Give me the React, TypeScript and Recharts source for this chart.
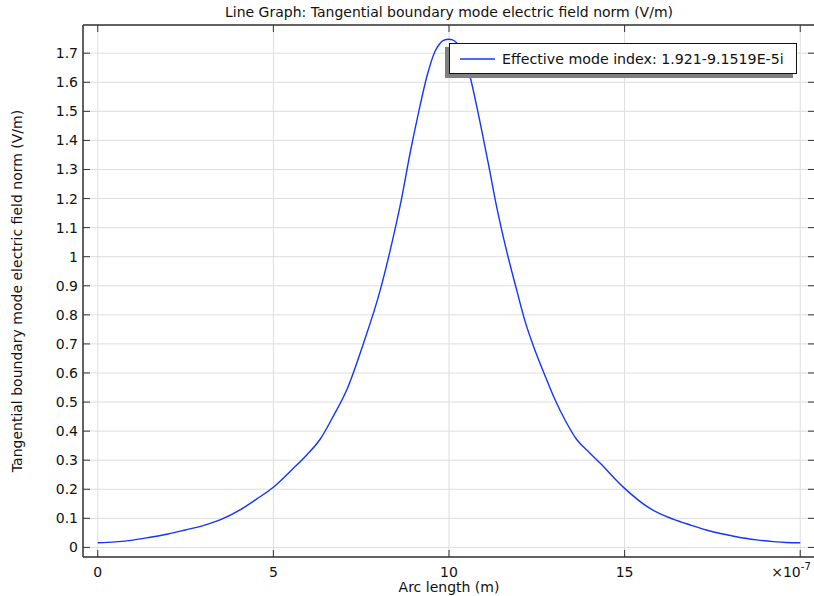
import { LineChart, Line, XAxis, YAxis, CartesianGrid, ReferenceLine, Legend, Label } from 'recharts';

// arc length in units of 1e-7 m
const arcLength = [
  0, 0.5, 1.0, 1.5, 2.0, 2.5, 3.0, 3.53, 4.05, 4.53, 5.0, 5.57, 5.95, 6.33, 6.7, 7.1, 7.56, 8.04, 8.37,
  8.65, 8.89, 9.13, 9.37, 9.6, 9.72, 9.84, 10.0, 10.1, 10.3, 10.5, 10.6, 10.83, 11.12, 11.36, 11.64,
  11.93, 12.16, 12.45, 12.78, 13.02, 13.3, 13.63, 14.0, 14.3, 15.0, 15.72, 16.38, 16.9, 17.33, 17.8,
  18.28, 18.75, 19.23, 19.6, 20.0,
];
const fieldNorm = [
  0.016, 0.019, 0.025, 0.035, 0.046, 0.06, 0.075, 0.097, 0.129, 0.167, 0.207, 0.272, 0.318, 0.372,
  0.45, 0.545, 0.7, 0.884, 1.045, 1.2, 1.355, 1.494, 1.62, 1.706, 1.73, 1.744, 1.748, 1.746, 1.722,
  1.665, 1.62, 1.494, 1.32, 1.17, 1.02, 0.884, 0.78, 0.677, 0.577, 0.508, 0.439, 0.372, 0.326, 0.29,
  0.203, 0.134, 0.097, 0.076, 0.06, 0.046, 0.034, 0.026, 0.02, 0.017, 0.016,
];
const xTicks = [0, 5, 10, 15, 20];
const yTicks = [0, 0.1, 0.2, 0.3, 0.4, 0.5, 0.6, 0.7, 0.8, 0.9, 1, 1.1, 1.2, 1.3, 1.4, 1.5, 1.6, 1.7];

const X_DOMAIN: [number, number] = [-0.42, 20.42];
const Y_DOMAIN: [number, number] = [-0.033, 1.797];

const data = arcLength.map((x, i) => ({ x, y: fieldNorm[i] }));

const FONT = '"DejaVu Sans", sans-serif';
const PLOT_LEFT = 83;
const PLOT_RIGHT = 815;
const PLOT_TOP = 25;
const PLOT_BOTTOM = 557;
const TICK = 7;
const AXIS = '#333';
const BLUE = '#1434ff';

function XTick({ x, payload }: any) {
  const last = payload.value === 20;
  return (
    <g>
      <line x1={x} x2={x} y1={PLOT_BOTTOM} y2={PLOT_BOTTOM - TICK} stroke={AXIS} />
      <line x1={x} x2={x} y1={PLOT_TOP} y2={PLOT_TOP + TICK} stroke={AXIS} />
      {last ? (
        <text x={x - 29} y={PLOT_BOTTOM + 20} fontSize={14} fontFamily={FONT} fill="#111">
          ×10
          <tspan dy={-7} fontSize={10}>
            -7
          </tspan>
        </text>
      ) : (
        <text x={x} y={PLOT_BOTTOM + 20} textAnchor="middle" fontSize={14} fontFamily={FONT} fill="#111">
          {payload.value}
        </text>
      )}
    </g>
  );
}

function YTick({ y, payload }: any) {
  return (
    <g>
      <line x1={PLOT_LEFT} x2={PLOT_LEFT + TICK} y1={y} y2={y} stroke={AXIS} />
      <line x1={PLOT_RIGHT - TICK} x2={PLOT_RIGHT} y1={y} y2={y} stroke={AXIS} />
      <text x={PLOT_LEFT - 5} y={y + 5} textAnchor="end" fontSize={14} fontFamily={FONT} fill="#111">
        {String(Number(payload.value.toFixed(1)))}
      </text>
    </g>
  );
}

function LegendBox() {
  return (
    <div
      style={{
        width: 346,
        height: 29,
        border: '1px solid #111',
        background: '#fff',
        boxShadow: '-4px 4px 0 #7f7f7f',
        display: 'flex',
        alignItems: 'center',
        fontFamily: FONT,
        fontSize: 14.2,
        color: '#111',
        whiteSpace: 'nowrap',
      }}
    >
      <svg width={52} height={10} style={{ flex: 'none' }}>
        <line x1={10} x2={45} y1={5} y2={5} stroke={BLUE} strokeWidth={1.5} />
      </svg>
      <span>Effective mode index: 1.921-9.1519E-5i</span>
    </div>
  );
}

export default function App() {
  return (
    <div style={{ position: 'absolute', left: 0, top: 0, width: 814, height: 596, overflow: 'hidden', background: '#fff' }}>
      <div
        style={{
          position: 'absolute',
          left: PLOT_LEFT,
          width: PLOT_RIGHT - PLOT_LEFT,
          top: 3,
          textAlign: 'center',
          fontFamily: FONT,
          fontSize: 14,
          lineHeight: '18px',
          color: '#111',
        }}
      >
        Line Graph: Tangential boundary mode electric field norm (V/m)
      </div>
      <LineChart width={822} height={596} data={data} margin={{ top: 25, right: 7, bottom: 0, left: 0 }}>
        <CartesianGrid stroke="#dddddd" />
        <XAxis
          dataKey="x"
          type="number"
          domain={X_DOMAIN}
          ticks={xTicks}
          interval={0}
          height={39}
          tickLine={false}
          axisLine={{ stroke: AXIS, strokeWidth: 1.5 }}
          tick={<XTick />}
          allowDataOverflow
        >
          <Label
            value="Arc length (m)"
            position="insideBottom"
            offset={4}
            style={{ fontFamily: FONT, fontSize: 14, fill: '#111' }}
          />
        </XAxis>
        <YAxis
          type="number"
          domain={Y_DOMAIN}
          ticks={yTicks}
          interval={0}
          width={83}
          tickLine={false}
          axisLine={{ stroke: AXIS, strokeWidth: 1.5 }}
          tick={<YTick />}
          allowDataOverflow
        >
          <Label
            value="Tangential boundary mode electric field norm (V/m)"
            angle={-90}
            position="insideLeft"
            offset={17}
            style={{ fontFamily: FONT, fontSize: 14, fill: '#111', textAnchor: 'middle' }}
          />
        </YAxis>
        <ReferenceLine y={Y_DOMAIN[1]} stroke={AXIS} strokeWidth={1.5} />
        <ReferenceLine x={X_DOMAIN[1]} stroke={AXIS} strokeWidth={1.5} />
        <Legend
          layout="horizontal"
          verticalAlign="middle"
          align="center"
          content={<LegendBox />}
          wrapperStyle={{ left: 449, top: 43, width: 'auto', height: 'auto' }}
        />
        <Line
          type="monotone"
          dataKey="y"
          stroke={BLUE}
          strokeWidth={1.4}
          dot={false}
          activeDot={false}
          isAnimationActive={false}
        />
      </LineChart>
    </div>
  );
}
